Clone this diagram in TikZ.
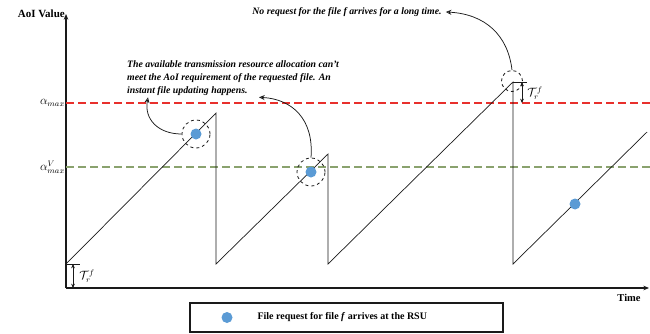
\documentclass[tikz,border=0pt]{standalone}
\usepackage{amsmath,amssymb}
\usepackage{fontspec}
\setmainfont{Liberation Serif}
\usetikzlibrary{arrows.meta,positioning,calc}
\definecolor{maxred}{HTML}{E8302C}
\definecolor{vgreen}{HTML}{8AA26E}
\definecolor{reqblue}{HTML}{5B9BD5}
\definecolor{ink}{HTML}{1A1A1A}
\tikzset{
  axisline/.style={-{Stealth[length=2mm,width=1.6mm]},line width=1.1pt,draw=ink},
  sawline/.style={line width=0.7pt,draw=ink},
  levelline/.style={line width=1.1pt,dash pattern=on 8pt off 4pt},
  reqdot/.style={circle,fill=reqblue,minimum size=11pt,inner sep=0pt},
  ringmark/.style={circle,draw=ink,dashed,line width=0.8pt,inner sep=0pt},
  notetext/.style={font=\fontsize{9.8}{13}\selectfont\bfseries\itshape,align=left,inner sep=0pt},
  notearr/.style={-{Stealth[length=2mm,width=1.8mm,open]},line width=0.75pt,draw=ink},
  gaparr/.style={{Stealth[length=1.5mm,width=1.3mm]}-{Stealth[length=1.5mm,width=1.3mm]},line width=0.6pt,draw=ink},
  ticks/.style={line width=0.5pt,draw=ink}
}
\begin{document}
\begin{tikzpicture}[x=1pt,y=1pt]
    \path[use as bounding box] (0,0) rectangle (650,333);
    % axes
    \coordinate (O) at (66,45);
    \coordinate (ytop) at (66,319);
    \coordinate (xend) at (649,45);
    \draw[axisline] (O) -- (ytop);
    \draw[axisline] (O) -- (xend);
    \node[font=\fontsize{11}{13}\selectfont\bfseries,anchor=east,inner sep=1pt] (ylab) at (ytop) {AoI Value};
    \node[font=\fontsize{10.5}{12}\selectfont\bfseries] (xlab) at (629,35) {Time};

    % threshold levels
    \coordinate (amax) at (66,230);
    \coordinate (avmax) at (66,166);
    \draw[levelline,maxred] (amax) -- (650,230);
    \draw[levelline,vgreen] (avmax) -- (650,166);
    \node[anchor=east,inner sep=1pt,font=\large] (amaxlab) at (amax) {$\alpha_{max}$};
    \node[anchor=east,inner sep=1pt,font=\large] (avmaxlab) at (avmax) {$\alpha_{max}^{V}$};

    % sawtooth
    \coordinate (s1) at (66,69);   \coordinate (p1) at (216,220);
    \coordinate (s2) at (216,69);  \coordinate (p2) at (328,179);
    \coordinate (s3) at (328,69);  \coordinate (p3) at (513,251);
    \coordinate (s4) at (513,69);  \coordinate (p4) at (647,201);
    \draw[sawline] (s1) -- (p1) -- (s2) -- (p2) -- (s3) -- (p3) -- (s4) -- (p4);

    % gap T_r^f at the bottom
    \draw[ticks] (s1) -- ++(14,0);
    \draw[gaparr] (73,69) -- (73,45);
    \node[inner sep=0pt,font=\large] (tbot) at (87,57) {$\mathcal{T}_r^{f}$};
    % gap T_r^f at the top
    \draw[ticks] (p3) -- ++(14,0);
    \draw[gaparr] (522,251) -- (522,230);
    \node[inner sep=0pt,font=\large] (ttop) at (535,240) {$\mathcal{T}_r^{f}$};

    % file requests
    \node[reqdot] (d1) at (196,199) {};
    \node[reqdot] (d2) at (311,161) {};
    \node[reqdot] (d3) at (575,129) {};
    \node[ringmark,minimum size=28pt] (r1) at (d1) {};
    \node[ringmark,minimum size=28pt] (r2) at (d2) {};
    \node[ringmark,minimum size=21pt] (r3) at (512,252) {};

    % notes
    \node[notetext,anchor=north west] (note1) at (127,273)
      {The available transmission resource allocation can't\\
       meet the AoI requirement of the requested file. An\\
       instant file updating happens.};
    \node[notetext] (note2) at (347,321)
      {No request for the file \textit{f} arrives for a long time.};
    \draw[notearr] (r1.west) .. controls (158,199) and (144,214) .. ([xshift=21pt,yshift=-2pt]note1.south west);
    \draw[notearr] (r2.north) .. controls (314,214) and (292,234) .. ([xshift=132pt,yshift=-2pt]note1.south west);
    \draw[notearr] (r3.north) .. controls (508,298) and (485,319) .. ([xshift=4pt]note2.east);

    % legend
    \node[draw=ink,line width=1.1pt,minimum width=313pt,minimum height=29pt,inner sep=0pt] (legend) at (346.5,15.5) {};
    \node[reqdot] (ldot) at (227,15.5) {};
    \node[font=\fontsize{10}{12}\selectfont\bfseries,anchor=west] (ltext) at (254,15.5)
      {File request for file \textit{f} arrives at the RSU};
\end{tikzpicture}
\end{document}
